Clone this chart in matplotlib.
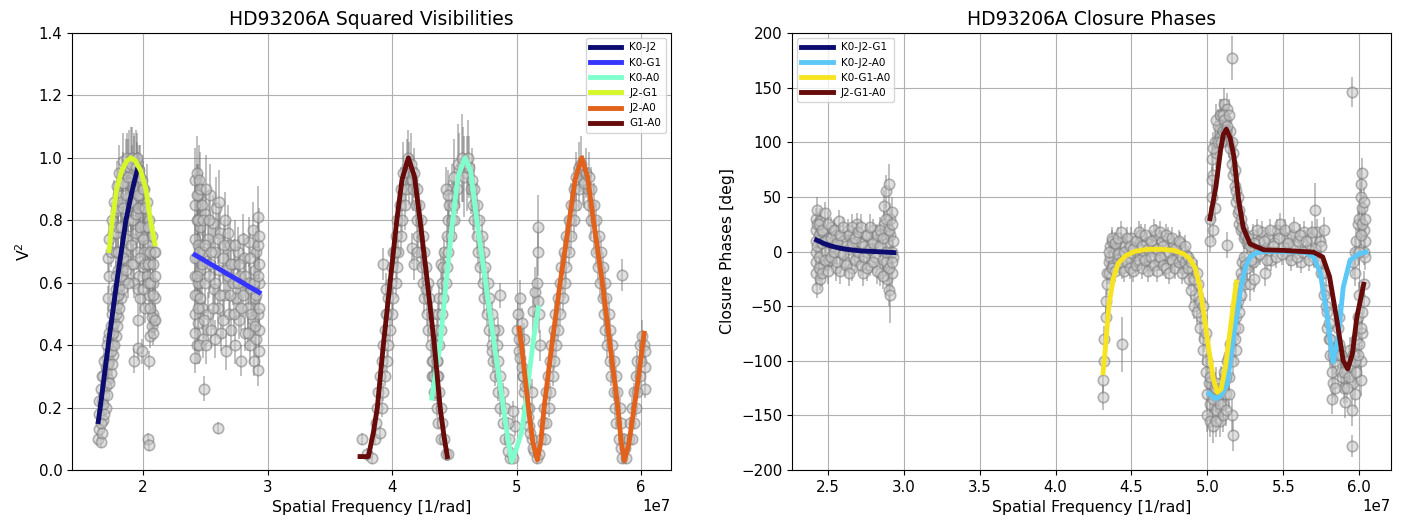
import numpy as np
import matplotlib.pyplot as plt

# observed squared visibilities: (spatial freq [1e7 1/rad], V2, err)
v2_k0j2 = [(1.64,0.10,0.02),(1.65,0.13,0.02),(1.66,0.09,0.02),(1.65,0.18,0.03),(1.67,0.22,0.03),
           (1.66,0.26,0.03),(1.68,0.16,0.02),(1.68,0.30,0.03),(1.69,0.24,0.03),(1.70,0.33,0.03),
           (1.70,0.20,0.03),(1.71,0.36,0.04),(1.72,0.29,0.03),(1.72,0.42,0.04),(1.73,0.35,0.04),
           (1.74,0.46,0.04),(1.74,0.31,0.03),(1.75,0.40,0.04),(1.76,0.52,0.05),(1.76,0.37,0.04),
           (1.77,0.47,0.04),(1.78,0.58,0.05),(1.78,0.43,0.04),(1.79,0.53,0.05),(1.80,0.64,0.05),
           (1.80,0.49,0.05),(1.81,0.59,0.05),(1.82,0.70,0.06),(1.82,0.55,0.05),(1.83,0.64,0.05),
           (1.84,0.76,0.06),(1.85,0.61,0.06),(1.85,0.70,0.06),(1.86,0.82,0.07),(1.87,0.67,0.06),
           (1.88,0.87,0.07),(1.88,0.75,0.06),(1.89,0.92,0.08),(1.90,0.80,0.07),(1.91,0.95,0.09),
           (1.92,0.86,0.08),(1.93,0.98,0.10),(1.94,0.90,0.08),(1.95,0.96,0.09),
           (1.65,0.22,0.03),(1.66,0.15,0.02),(1.67,0.12,0.02),(1.67,0.30,0.03),(1.68,0.21,0.03),
           (1.69,0.35,0.04),(1.69,0.18,0.03),(1.70,0.27,0.03),(1.71,0.24,0.03),(1.71,0.40,0.04),
           (1.72,0.34,0.04),(1.73,0.44,0.04),(1.73,0.28,0.03),(1.74,0.38,0.04),(1.75,0.50,0.05),
           (1.75,0.34,0.04),(1.76,0.44,0.04),(1.77,0.55,0.05),(1.77,0.40,0.04),(1.78,0.50,0.05),
           (1.79,0.46,0.05),(1.80,0.56,0.05),(1.81,0.52,0.05),(1.83,0.58,0.05)]
v2_j2g1 = [(1.72,0.55,0.04),(1.73,0.62,0.05),(1.72,0.68,0.05),(1.73,0.74,0.05),(1.74,0.70,0.05),
           (1.75,0.80,0.06),(1.76,0.76,0.06),(1.77,0.86,0.07),(1.78,0.83,0.07),(1.79,0.91,0.08),
           (1.80,0.88,0.08),(1.81,0.95,0.09),(1.83,0.92,0.08),(1.84,0.99,0.09),(1.86,0.96,0.10),
           (1.87,1.00,0.08),(1.89,0.97,0.12),(1.91,1.00,0.10),(1.93,0.95,0.12),(1.95,1.00,0.08),
           (1.96,0.92,0.10),(1.97,0.96,0.08),(1.98,0.88,0.09),(1.99,0.93,0.08),(2.00,0.84,0.08),
           (2.01,0.90,0.07),(2.02,0.78,0.07),(2.03,0.86,0.12),(2.04,0.72,0.06),(2.05,0.80,0.06),
           (2.06,0.66,0.06),(2.07,0.75,0.06),(2.08,0.60,0.05),(2.09,0.70,0.05),(2.10,0.55,0.05),
           (2.09,0.48,0.05),(2.08,0.50,0.05),(2.07,0.46,0.04),(1.97,0.62,0.05),(1.98,0.55,0.05),
           (1.96,0.48,0.05),(1.93,0.35,0.04),(1.96,0.39,0.04),(2.05,0.35,0.03),(2.04,0.10,0.02),
           (2.05,0.08,0.02),(1.99,0.38,0.04),(2.00,0.65,0.06),(1.95,0.70,0.06),(1.93,0.60,0.05),
           (1.92,0.74,0.06),(1.90,0.66,0.06),(1.99,0.75,0.06),(2.01,0.70,0.06),(2.03,0.62,0.05),
           (2.05,0.56,0.05),(2.07,0.49,0.05),(2.06,0.43,0.04),
           (1.78,0.62,0.05),(1.78,0.70,0.06),(1.78,0.76,0.06),(1.80,0.70,0.06),(1.80,0.78,0.07),
           (1.80,0.84,0.08),(1.82,0.78,0.07),(1.82,0.86,0.08),(1.82,0.62,0.05),(1.84,0.68,0.06),
           (1.84,0.84,0.08),(1.84,0.92,0.10),(1.86,0.74,0.06),(1.86,0.88,0.09),(1.86,0.64,0.05),
           (1.88,0.80,0.07),(1.88,0.94,0.12),(1.88,0.60,0.05),(1.90,0.86,0.09),(1.90,0.98,0.12),
           (1.90,0.72,0.06),(1.92,0.90,0.10),(1.92,0.80,0.07),(1.92,0.66,0.06),(1.94,0.82,0.08),
           (1.94,0.76,0.07),(1.94,0.97,0.12),(1.96,0.84,0.08),(1.96,0.58,0.05),(1.96,0.88,0.10),
           (1.98,0.78,0.07),(1.98,0.68,0.06),(1.98,0.94,0.10),(2.00,0.58,0.05),(2.00,0.74,0.07),
           (2.00,0.90,0.09),(2.02,0.66,0.06),(2.02,0.52,0.05),(2.02,0.84,0.08),(2.04,0.60,0.05),
           (2.04,0.66,0.06),(2.04,0.78,0.07),(2.06,0.52,0.05),(2.06,0.70,0.06),(2.06,0.60,0.05),
           (2.08,0.56,0.05),(2.08,0.66,0.06),(2.08,0.44,0.04),(2.10,0.62,0.06),(2.10,0.48,0.05),
           (2.10,0.70,0.06)]
v2_k0g1 = [(2.42,0.93,0.10),(2.42,0.85,0.09),(2.42,0.74,0.08),(2.42,0.62,0.07),(2.42,0.50,0.06),
           (2.42,0.44,0.06),(2.42,0.36,0.05),(2.43,0.95,0.12),(2.43,0.80,0.09),(2.43,0.68,0.08),
           (2.43,0.56,0.07),(2.43,0.40,0.06),(2.44,0.88,0.10),(2.44,0.72,0.08),(2.44,0.60,0.07),
           (2.44,0.47,0.06),(2.45,0.93,0.11),(2.46,0.78,0.09),(2.46,0.64,0.08),(2.47,0.85,0.10),
           (2.47,0.52,0.07),(2.48,0.70,0.08),(2.48,0.42,0.06),(2.49,0.26,0.04),(2.50,0.82,0.09),
           (2.50,0.60,0.07),(2.52,0.74,0.08),(2.52,0.50,0.07),(2.54,0.88,0.10),(2.54,0.66,0.08),
           (2.55,0.45,0.06),(2.56,0.79,0.09),(2.57,0.58,0.07),(2.58,0.70,0.08),(2.59,0.84,0.10),
           (2.60,0.135,0.02),(2.60,0.52,0.07),(2.61,0.64,0.08),(2.62,0.76,0.09),(2.63,0.44,0.06),
           (2.64,0.68,0.08),(2.65,0.56,0.07),(2.66,0.80,0.09),(2.67,0.38,0.06),(2.68,0.62,0.08),
           (2.69,0.50,0.07),(2.70,0.72,0.08),(2.71,0.45,0.06),(2.72,0.60,0.07),(2.73,0.66,0.08),
           (2.74,0.40,0.06),(2.75,0.55,0.07),(2.76,0.70,0.08),(2.77,0.48,0.06),(2.78,0.62,0.07),
           (2.79,0.35,0.05),(2.80,0.56,0.07),(2.81,0.68,0.08),(2.82,0.44,0.06),(2.83,0.60,0.07),
           (2.84,0.52,0.07),(2.85,0.73,0.08),(2.86,0.40,0.06),(2.87,0.58,0.07),(2.88,0.77,0.09),
           (2.88,0.48,0.06),(2.89,0.35,0.05),(2.90,0.64,0.08),(2.90,0.55,0.07),(2.91,0.42,0.06),
           (2.91,0.70,0.08),(2.92,0.81,0.10),(2.92,0.50,0.07),(2.93,0.60,0.07),(2.93,0.38,0.05),
           (2.92,0.32,0.05),(2.93,0.66,0.08),(2.93,0.45,0.06),
           (2.42,0.68,0.08),(2.42,0.56,0.07),(2.43,0.88,0.10),(2.43,0.62,0.07),(2.44,0.52,0.07),
           (2.44,0.80,0.09),(2.45,0.40,0.06),(2.45,0.70,0.08),(2.46,0.55,0.07),(2.46,0.90,0.12),
           (2.47,0.66,0.08),(2.48,0.80,0.09),(2.49,0.48,0.06),(2.50,0.72,0.08),(2.51,0.40,0.06),
           (2.51,0.90,0.11),(2.53,0.62,0.07),(2.53,0.80,0.09),(2.55,0.70,0.08),(2.56,0.52,0.07),
           (2.58,0.60,0.07),(2.58,0.42,0.06),(2.60,0.74,0.08),(2.61,0.86,0.10),(2.62,0.56,0.07),
           (2.64,0.48,0.06),(2.65,0.72,0.08),(2.67,0.64,0.08),(2.68,0.76,0.09),(2.70,0.56,0.07),
           (2.71,0.66,0.08),(2.73,0.50,0.07),(2.74,0.72,0.08),(2.76,0.60,0.07),(2.77,0.66,0.08),
           (2.79,0.52,0.07),(2.80,0.74,0.08),(2.82,0.62,0.07),(2.84,0.44,0.06),(2.85,0.60,0.07),
           (2.86,0.68,0.08),(2.87,0.50,0.07),(2.89,0.60,0.07),(2.90,0.46,0.06),(2.91,0.56,0.07),
           (2.92,0.62,0.08),(2.92,0.72,0.09),(2.93,0.52,0.07),(2.93,0.75,0.09)]
v2_g1a0 = [(3.76,0.10,0.02),(3.80,0.05,0.02),(3.84,0.04,0.02),(3.86,0.10,0.02),(3.88,0.20,0.03),
           (3.92,0.20,0.03),(3.90,0.30,0.03),(3.94,0.30,0.03),(3.93,0.40,0.04),(3.97,0.40,0.04),
           (3.96,0.50,0.04),(4.00,0.50,0.04),(3.99,0.60,0.05),(4.03,0.60,0.05),(4.01,0.70,0.05),
           (4.05,0.70,0.05),(4.04,0.80,0.06),(4.08,0.80,0.06),(4.07,0.90,0.07),(4.11,0.90,0.07),
           (4.12,0.97,0.09),(4.14,0.95,0.10),(4.16,0.93,0.08),(4.17,0.90,0.07),(4.20,0.90,0.07),
           (4.20,0.80,0.06),(4.23,0.80,0.06),(4.23,0.70,0.05),(4.26,0.70,0.05),(4.25,0.60,0.05),
           (4.29,0.60,0.05),(4.28,0.50,0.04),(4.32,0.50,0.04),(4.31,0.40,0.04),(4.35,0.40,0.04),
           (4.33,0.30,0.03),(4.37,0.30,0.03),(4.36,0.20,0.03),(4.39,0.20,0.03),(4.39,0.10,0.02),
           (4.42,0.10,0.02),(4.43,0.05,0.02),(4.45,0.05,0.02),(4.16,0.71,0.05),(4.18,0.66,0.05),
           (3.93,0.66,0.05),(3.95,0.58,0.05),
           (3.89,0.25,0.03),(3.93,0.25,0.03),(3.92,0.35,0.04),(3.96,0.35,0.04),(3.94,0.45,0.04),
           (3.98,0.45,0.04),(3.97,0.55,0.05),(4.01,0.55,0.05),(4.00,0.65,0.05),(4.04,0.65,0.05),
           (4.03,0.75,0.06),(4.07,0.75,0.06),(4.06,0.85,0.07),(4.10,0.85,0.08),(4.09,0.95,0.10),
           (4.13,1.00,0.09),(4.15,0.98,0.10),(4.18,0.95,0.08),(4.19,0.85,0.07),(4.22,0.85,0.07),
           (4.21,0.75,0.06),(4.25,0.75,0.06),(4.24,0.65,0.05),(4.27,0.65,0.05),(4.26,0.55,0.05),
           (4.30,0.55,0.05),(4.29,0.45,0.04),(4.33,0.45,0.04),(4.32,0.35,0.04),(4.36,0.35,0.04),
           (4.35,0.25,0.03),(4.38,0.25,0.03),(4.37,0.15,0.02),(4.40,0.15,0.02),(3.87,0.15,0.02),
           (3.90,0.12,0.02),(3.95,0.50,0.04),(4.02,0.70,0.05),(4.27,0.58,0.05),(4.20,0.70,0.05)]
v2_k0a0 = [(4.32,0.30,0.03),(4.34,0.30,0.03),(4.35,0.40,0.04),(4.38,0.40,0.04),(4.37,0.50,0.04),
           (4.40,0.50,0.04),(4.40,0.60,0.05),(4.43,0.60,0.05),(4.42,0.70,0.05),(4.45,0.70,0.05),
           (4.45,0.80,0.06),(4.48,0.80,0.06),(4.48,0.90,0.08),(4.52,0.90,0.08),(4.54,0.96,0.12),
           (4.57,0.98,0.12),(4.60,0.95,0.12),(4.62,0.97,0.10),(4.63,0.90,0.08),(4.66,0.90,0.08),
           (4.66,0.80,0.06),(4.70,0.80,0.06),(4.69,0.70,0.05),(4.74,0.70,0.05),(4.73,0.60,0.05),
           (4.77,0.60,0.05),(4.76,0.50,0.04),(4.80,0.50,0.04),(4.80,0.40,0.04),(4.84,0.40,0.04),
           (4.83,0.30,0.03),(4.87,0.30,0.03),(4.87,0.20,0.03),(4.91,0.20,0.03),(4.91,0.10,0.02),
           (4.94,0.10,0.02),(4.95,0.04,0.02),(4.97,0.04,0.02),(4.34,0.25,0.03),(4.36,0.30,0.03),
           (4.39,0.66,0.05),(4.43,0.90,0.07),(4.87,0.56,0.04),(4.85,0.45,0.04),(4.97,0.19,0.03),
           (4.99,0.14,0.03),(5.00,0.45,0.05),(5.01,0.50,0.06),(5.02,0.38,0.04),(5.03,0.55,0.06),
           (5.04,0.47,0.05),(5.05,0.30,0.04),(5.06,0.42,0.05),(5.13,0.51,0.07),(5.15,0.57,0.08),
           (5.17,0.78,0.10),(5.17,0.70,0.08),(5.16,0.60,0.08),(5.17,0.54,0.07),(5.18,0.50,0.06),
           (5.19,0.40,0.05),(5.12,0.25,0.04),(5.10,0.20,0.03),
           (4.33,0.35,0.04),(4.36,0.35,0.04),(4.36,0.45,0.04),(4.39,0.45,0.04),(4.38,0.55,0.05),
           (4.41,0.55,0.05),(4.41,0.65,0.05),(4.44,0.65,0.05),(4.44,0.75,0.06),(4.47,0.75,0.06),
           (4.46,0.85,0.08),(4.50,0.85,0.08),(4.50,0.94,0.12),(4.53,0.98,0.13),(4.56,1.00,0.14),
           (4.58,0.94,0.13),(4.61,1.00,0.12),(4.64,0.93,0.10),(4.65,0.85,0.08),(4.68,0.85,0.07),
           (4.68,0.75,0.06),(4.72,0.75,0.06),(4.71,0.65,0.05),(4.75,0.65,0.05),(4.74,0.55,0.05),
           (4.78,0.55,0.05),(4.78,0.45,0.04),(4.82,0.45,0.04),(4.81,0.35,0.04),(4.85,0.35,0.04),
           (4.85,0.25,0.03),(4.89,0.25,0.03),(4.89,0.15,0.02),(4.93,0.15,0.02),(4.93,0.06,0.02),
           (4.50,0.80,0.07),(4.45,0.88,0.08),(4.80,0.38,0.04)]
v2_j2a0 = [(5.02,0.42,0.04),(5.03,0.36,0.04),(5.05,0.30,0.03),(5.06,0.25,0.03),(5.08,0.20,0.03),
           (5.10,0.14,0.02),(5.12,0.10,0.02),(5.14,0.06,0.02),(5.16,0.04,0.02),(5.18,0.05,0.02),
           (5.20,0.10,0.02),(5.23,0.10,0.02),(5.22,0.20,0.03),(5.26,0.20,0.03),(5.25,0.30,0.03),
           (5.29,0.30,0.03),(5.28,0.40,0.04),(5.32,0.40,0.04),(5.31,0.50,0.04),(5.35,0.50,0.04),
           (5.35,0.60,0.05),(5.39,0.60,0.05),(5.38,0.70,0.05),(5.42,0.70,0.05),(5.42,0.80,0.06),
           (5.46,0.80,0.06),(5.46,0.90,0.07),(5.50,0.90,0.07),(5.50,0.97,0.08),(5.53,0.93,0.08),
           (5.56,0.95,0.08),(5.57,0.90,0.07),(5.60,0.90,0.07),(5.60,0.80,0.06),(5.64,0.80,0.06),
           (5.64,0.70,0.05),(5.68,0.70,0.05),(5.67,0.60,0.05),(5.71,0.60,0.05),(5.70,0.50,0.04),
           (5.74,0.50,0.04),(5.73,0.40,0.04),(5.77,0.40,0.04),(5.76,0.30,0.03),(5.80,0.30,0.03),
           (5.79,0.20,0.03),(5.83,0.20,0.03),(5.82,0.10,0.02),(5.86,0.10,0.02),(5.85,0.04,0.02),
           (5.88,0.04,0.02),(5.90,0.10,0.02),(5.93,0.10,0.02),(5.93,0.20,0.03),(5.96,0.20,0.03),
           (5.96,0.30,0.03),(5.99,0.30,0.03),(5.99,0.40,0.04),(6.02,0.40,0.04),(6.03,0.33,0.04),
           (6.03,0.26,0.03),(5.85,0.625,0.05),
           (5.04,0.33,0.03),(5.07,0.27,0.03),(5.09,0.17,0.02),(5.11,0.12,0.02),(5.13,0.07,0.02),
           (5.21,0.15,0.02),(5.24,0.15,0.02),(5.24,0.25,0.03),(5.27,0.25,0.03),(5.27,0.35,0.03),
           (5.30,0.35,0.03),(5.30,0.45,0.04),(5.33,0.45,0.04),(5.33,0.55,0.05),(5.37,0.55,0.05),
           (5.36,0.65,0.05),(5.40,0.65,0.05),(5.40,0.75,0.06),(5.44,0.75,0.06),(5.44,0.85,0.07),
           (5.48,0.85,0.07),(5.48,0.94,0.08),(5.52,0.98,0.09),(5.54,0.92,0.08),(5.58,0.94,0.08),
           (5.58,0.85,0.07),(5.62,0.85,0.07),(5.62,0.75,0.06),(5.66,0.75,0.06),(5.65,0.65,0.05),
           (5.69,0.65,0.05),(5.69,0.55,0.05),(5.72,0.55,0.05),(5.71,0.45,0.04),(5.75,0.45,0.04),
           (5.75,0.35,0.03),(5.78,0.35,0.03),(5.78,0.25,0.03),(5.81,0.25,0.03),(5.80,0.15,0.02),
           (5.84,0.15,0.02),(5.84,0.07,0.02),(5.87,0.07,0.02),(5.91,0.15,0.02),(5.94,0.15,0.02),
           (5.94,0.25,0.03),(5.97,0.25,0.03),(5.97,0.35,0.03),(6.00,0.35,0.04),(6.01,0.43,0.05),
           (6.03,0.38,0.04)]

# model V2 curves: spatial freq [1e7 1/rad], V2
m_k0j2_x = [1.641, 1.66, 1.721, 1.789, 1.863, 1.91, 1.954]
m_k0j2_y = [0.155, 0.21, 0.40, 0.60, 0.80, 0.89, 0.961]
m_k0g1_x = [2.418, 2.932]
m_k0g1_y = [0.689, 0.569]
m_k0a0_x = [4.319, 4.35, 4.386, 4.434, 4.487, 4.53, 4.586, 4.63, 4.68, 4.752, 4.822, 4.894,
            4.93, 4.961, 5.0, 5.04, 5.075, 5.108, 5.14, 5.175]
m_k0a0_y = [0.23, 0.31, 0.40, 0.60, 0.80, 0.94, 1.0, 0.96, 0.80, 0.60, 0.40, 0.20,
            0.10, 0.027, 0.07, 0.12, 0.22, 0.33, 0.43, 0.52]
m_j2g1_x = [1.727, 1.753, 1.789, 1.83, 1.87, 1.904, 1.94, 1.98, 2.024, 2.06, 2.096]
m_j2g1_y = [0.703, 0.80, 0.90, 0.96, 0.99, 1.0, 0.99, 0.96, 0.90, 0.80, 0.724]
m_j2a0_x = [5.02, 5.04, 5.095, 5.13, 5.167, 5.195, 5.221, 5.283, 5.35, 5.424, 5.47, 5.523,
            5.57, 5.617, 5.689, 5.751, 5.813, 5.84, 5.866, 5.90, 5.944, 5.98, 6.024]
m_j2a0_y = [0.454, 0.40, 0.20, 0.09, 0.032, 0.09, 0.20, 0.40, 0.60, 0.80, 0.93, 1.0,
            0.94, 0.80, 0.60, 0.40, 0.20, 0.09, 0.03, 0.08, 0.20, 0.30, 0.438]
m_g1a0_x = [3.743, 3.81, 3.85, 3.882, 3.93, 3.984, 4.038, 4.08, 4.131, 4.18, 4.225, 4.284,
            4.34, 4.386, 4.42, 4.444]
m_g1a0_y = [0.043, 0.043, 0.12, 0.20, 0.40, 0.60, 0.80, 0.93, 1.0, 0.94, 0.80, 0.60,
            0.40, 0.20, 0.10, 0.043]

# observed closure phases: (spatial freq [1e7 1/rad], CP [deg], err)
cp_k0j2g1 = [(2.42,30,10),(2.42,20,12),(2.42,10,10),(2.42,0,12),(2.42,-10,10),(2.42,-20,12),
             (2.43,-33,10),(2.43,38,12),(2.43,25,10),(2.43,5,12),(2.44,15,10),(2.44,-5,12),
             (2.45,-25,10),(2.45,28,12),(2.46,8,10),(2.47,18,10),(2.47,-12,10),(2.48,35,10),
             (2.49,0,10),(2.50,12,10),(2.51,-8,10),(2.52,22,10),(2.53,5,10),(2.55,-15,12),
             (2.55,15,10),(2.57,28,10),(2.58,0,10),(2.60,10,10),(2.61,-10,10),(2.63,20,10),
             (2.64,2,10),(2.66,-15,12),(2.67,12,10),(2.69,25,10),(2.70,-5,10),(2.72,8,10),
             (2.73,-20,12),(2.75,15,10),(2.76,0,10),(2.78,-12,10),(2.79,10,10),(2.80,20,10),
             (2.81,-5,10),(2.83,5,10),(2.84,-20,12),(2.85,15,10),(2.86,-8,10),(2.87,25,12),
             (2.87,42,14),(2.88,55,15),(2.88,-10,12),(2.89,8,12),(2.89,-25,15),(2.90,62,18),
             (2.90,-35,15),(2.91,30,14),(2.91,15,12),(2.91,-40,25),(2.92,0,12),(2.92,-20,14),
             (2.92,36,14),(2.93,10,12),(2.93,-5,12),
             (2.44,25,12),(2.44,-15,12),(2.46,-20,12),(2.46,20,12),(2.48,10,10),(2.48,-8,10),
             (2.50,25,12),(2.50,-18,12),(2.52,-5,10),(2.52,12,10),(2.54,20,10),(2.54,0,10),
             (2.56,-10,10),(2.56,8,10),(2.58,15,10),(2.58,-18,12),(2.60,22,10),(2.60,-2,10),
             (2.62,5,10),(2.62,-12,10),(2.64,15,10),(2.64,-20,12),(2.66,8,10),(2.66,22,12),
             (2.68,-8,10),(2.68,12,10),(2.70,18,10),(2.70,0,10),(2.72,-12,10),(2.72,22,12),
             (2.74,5,10),(2.74,-5,10),(2.76,15,10),(2.76,-15,12),(2.78,2,10),(2.78,22,12),
             (2.80,-10,10),(2.80,8,10),(2.82,15,10),(2.82,-18,12),(2.84,5,10),(2.84,20,12),
             (2.86,12,10),(2.86,-22,12),(2.88,0,12),(2.88,30,14),(2.90,20,12),(2.90,-15,12),
             (2.92,-10,12),(2.92,25,14)]
cp_k0g1a0 = [(4.31,-133,12),(4.31,-118,12),(4.32,-100,12),(4.32,-80,12),(4.33,-60,10),(4.33,-45,10),
             (4.34,-30,10),(4.34,-20,10),(4.35,-10,10),(4.36,5,10),(4.36,-5,10),(4.37,10,10),
             (4.38,-12,10),(4.40,2,10),(4.41,-8,10),(4.43,8,10),(4.44,-85,25),(4.44,-15,10),
             (4.46,5,10),(4.48,-5,10),(4.50,12,10),(4.52,-10,10),(4.54,3,10),(4.56,15,10),
             (4.58,-5,10),(4.60,8,10),(4.62,-12,10),(4.64,5,10),(4.66,15,10),(4.68,-8,10),
             (4.70,10,10),(4.72,-3,10),(4.74,12,10),(4.76,-10,10),(4.78,5,10),(4.80,-5,10),
             (4.82,8,10),(4.84,-15,10),(4.86,-3,10),(4.88,-25,10),(4.90,-15,10),(4.92,-40,12),
             (4.94,-30,12),(4.96,-60,12),(4.98,-80,12),(5.00,-100,14),(5.01,-120,14),(5.02,-140,15),
             (5.03,-130,15),(5.04,-150,15),(5.05,-125,15),(5.06,-145,15),(5.07,-135,15),(5.08,-155,15),
             (5.09,-120,15),(5.10,-140,15),(5.11,-110,14),(5.12,-130,14),(5.13,-100,14),(5.14,-115,14),
             (5.15,-85,12),(5.16,-150,15),(5.17,-168,15),(5.18,-70,12),(5.19,-50,12),
             (4.35,0,10),(4.35,-20,10),(4.37,-15,10),(4.37,12,10),(4.39,8,10),(4.39,-18,10),
             (4.41,12,10),(4.41,-2,10),(4.43,-10,10),(4.43,18,10),(4.45,0,10),(4.45,-18,10),
             (4.47,12,10),(4.47,-10,10),(4.49,-15,10),(4.49,5,10),(4.51,2,10),(4.51,-18,10),
             (4.53,10,10),(4.53,-12,10),(4.55,-8,10),(4.55,18,10),(4.57,5,10),(4.57,-15,10),
             (4.59,15,10),(4.59,-8,10),(4.61,-18,10),(4.61,2,10),(4.63,10,10),(4.63,-5,10),
             (4.65,-12,10),(4.65,20,10),(4.67,2,10),(4.67,-18,10),(4.69,18,10),(4.69,-5,10),
             (4.71,-12,10),(4.71,5,10),(4.73,15,10),(4.73,-15,10),(4.75,0,10),(4.75,-20,10),
             (4.77,12,10),(4.77,-8,10),(4.79,-15,10),(4.79,2,10),(4.81,10,10),(4.81,-10,10),
             (4.83,-5,10),(4.83,-20,10),(4.85,5,10),(4.85,-10,10),(4.87,-15,10),(4.87,-5,10),
             (4.89,-10,10),(4.89,-35,12),(4.91,-25,12),(4.91,-50,12),(4.93,-20,12),(4.93,-55,12),
             (4.95,-45,12),(4.95,-70,12),(4.97,-50,12),(4.97,-90,14),(4.99,-75,14),(4.99,-110,14),
             (5.00,-130,14),(5.00,-150,15),(5.02,-115,14),(5.02,-155,15),(5.04,-135,15),(5.04,-160,15),
             (5.06,-120,14),(5.06,-155,15),(5.08,-140,15),(5.08,-125,14),(5.10,-125,14),(5.10,-150,15),
             (5.12,-145,15),(5.12,-115,14),(5.14,-130,14),(5.14,-95,12)]
cp_j2g1a0 = [(5.02,10,10),(5.02,30,12),(5.03,50,12),(5.03,85,14),(5.04,70,12),(5.05,100,14),
             (5.06,90,14),(5.07,115,15),(5.08,105,15),(5.09,125,15),(5.10,110,15),(5.11,135,15),
             (5.12,120,15),(5.13,130,15),(5.14,100,14),(5.15,110,14),(5.16,80,12),(5.17,90,12),
             (5.18,60,12),(5.19,45,12),(5.20,35,10),(5.21,25,10),(5.22,20,10),(5.24,12,10),
             (5.26,8,10),(5.13,6,12),(5.16,177,20),(5.05,40,12),(5.04,20,12),
             (5.17,-100,14),(5.18,-80,12),(5.19,-60,12),(5.20,-45,12),(5.21,-30,10),(5.22,-20,10),
             (5.23,-10,10),(5.24,-5,10),
             (5.03,65,12),(5.04,95,14),(5.06,120,15),(5.07,100,14),(5.08,125,15),(5.09,100,14),
             (5.10,125,15),(5.11,120,15),(5.12,110,14),(5.13,115,15),(5.14,125,15),(5.15,95,14),
             (5.16,100,14),(5.17,70,12),(5.18,75,12),(5.19,55,12),(5.20,50,12),(5.21,38,10),
             (5.22,30,10),(5.23,22,10),(5.25,15,10),(5.27,10,10),
             (5.19,-90,14),(5.20,-70,12),(5.21,-55,12),(5.22,-40,12),(5.23,-25,10),(5.25,-12,10)]
cp_k0j2a0 = [(5.25,-30,15),(5.26,-15,10),(5.28,5,10),(5.30,15,10),(5.32,-5,10),(5.34,10,10),
             (5.36,18,10),(5.38,2,10),(5.40,12,10),(5.42,-8,10),(5.44,8,10),(5.46,20,10),
             (5.48,25,10),(5.50,5,10),(5.52,12,10),(5.54,-3,10),(5.56,15,10),(5.58,5,10),
             (5.60,10,10),(5.62,-10,10),(5.64,18,10),(5.66,2,10),(5.68,12,10),(5.70,-5,10),
             (5.71,38,25),(5.72,18,12),(5.74,10,10),(5.75,-20,12),(5.77,20,12),(5.78,-35,14),
             (5.38,-20,12),(5.30,-10,10),(5.28,-30,15),(5.31,-25,12),
             (5.76,-20,12),(5.78,-50,12),(5.79,-70,12),(5.80,-80,12),(5.81,-95,12),(5.82,-110,14),
             (5.82,-135,14),(5.83,-120,14),(5.84,-100,12),(5.85,-90,12),(5.86,-70,12),(5.87,-60,12),
             (5.88,-110,14),(5.89,-115,14),(5.90,-125,14),(5.91,-138,14),(5.92,-110,14),(5.93,-100,14),
             (5.94,-90,12),(5.95,-145,15),(5.95,-178,10),(5.96,-120,14),(5.97,-130,14),(5.98,-80,12),
             (5.99,-60,12),(6.00,-40,12),(6.01,-100,14),(6.01,-118,14),(6.02,-75,12),
             (5.97,-20,12),(5.98,10,12),(5.99,25,12),(6.00,30,12),(6.01,50,14),(6.01,62,14),
             (6.02,72,14),(6.02,40,12),(6.03,20,12),(6.03,0,12),(6.04,10,12),(6.04,-5,12),
             (6.03,-30,12),(5.95,146,14),(5.97,0,12),(5.96,-10,12),
             (5.27,12,10),(5.29,-8,10),(5.31,8,10),(5.33,20,10),(5.35,-2,10),(5.37,10,10),
             (5.39,-8,10),(5.41,20,10),(5.43,5,10),(5.45,-5,10),(5.47,12,10),(5.49,-2,10),
             (5.51,20,10),(5.53,8,10),(5.55,-8,10),(5.57,22,10),(5.59,-5,10),(5.61,15,10),
             (5.63,0,10),(5.65,10,10),(5.67,-8,10),(5.69,18,10),(5.71,2,10),(5.73,-10,10),
             (5.75,5,10),
             (5.77,-40,12),(5.79,-55,12),(5.80,-65,12),(5.81,-80,12),(5.83,-95,12),(5.84,-125,14),
             (5.86,-95,12),(5.87,-85,12),(5.88,-95,12),(5.90,-110,14),(5.91,-100,14),(5.92,-125,14),
             (5.93,-115,14),(5.94,-105,14),(5.96,-95,12),(5.97,-100,14),(5.98,-110,14),(5.99,-95,12),
             (6.00,-85,12),(6.01,-70,12),(6.02,-55,12),(6.03,-45,12),(6.00,0,12),(6.01,15,12),
             (6.02,25,12),(6.03,45,14),(6.04,30,12)]

# model closure phase curves: spatial freq [1e7 1/rad], CP [deg]
m_cp1_x = [2.425, 2.47, 2.52, 2.58, 2.65, 2.72, 2.80, 2.87, 2.935]
m_cp1_y = [10.5, 7.5, 5.0, 3.0, 1.5, 0.5, 0.0, -0.5, -1.0]
m_cp2_x = [5.011, 5.056, 5.09, 5.131, 5.176, 5.221, 5.25, 5.281, 5.32, 5.371, 5.50, 5.64, 5.70,
           5.745, 5.79, 5.826, 5.83, 5.865, 5.895, 5.94, 6.0, 6.045]
m_cp2_y = [-130, -135, -132, -121, -75, -33, -15, -5, -1.5, 0, 0, -0.6, -5,
           -20, -60, -100, -101, -75, -33, -8, -2, -0.6]
m_cp3_x = [4.313, 4.33, 4.352, 4.38, 4.412, 4.46, 4.52, 4.60, 4.70, 4.78, 4.84, 4.88, 4.92,
           4.95, 4.98, 5.01, 5.04, 5.065, 5.09, 5.12, 5.15, 5.17, 5.191]
m_cp3_y = [-111, -85, -48, -25, -11, -4, 0, 2, 2, 1, -2, -6, -15,
           -32, -60, -90, -117, -129, -126, -105, -72, -50, -28]
m_cp4_x = [5.017, 5.056, 5.086, 5.105, 5.125, 5.15, 5.176, 5.206, 5.236, 5.281, 5.371, 5.50,
           5.70, 5.76, 5.805, 5.85, 5.895, 5.925, 5.955, 5.985, 6.03]
m_cp4_y = [30, 59, 92, 107, 112, 104, 86, 47, 22, 7, 1.5, 1,
           -0.6, -5, -23, -60, -100, -107.5, -94, -60, -30]

v2_models = [("K0-J2", m_k0j2_x, m_k0j2_y, "#0b0b70"),
             ("K0-G1", m_k0g1_x, m_k0g1_y, "#3535ff"),
             ("K0-A0", m_k0a0_x, m_k0a0_y, "#80ffcc"),
             ("J2-G1", m_j2g1_x, m_j2g1_y, "#d6f72a"),
             ("J2-A0", m_j2a0_x, m_j2a0_y, "#e2621c"),
             ("G1-A0", m_g1a0_x, m_g1a0_y, "#660a0a")]
cp_models = [("K0-J2-G1", m_cp1_x, m_cp1_y, "#0b0b70"),
             ("K0-J2-A0", m_cp2_x, m_cp2_y, "#5cc8f7"),
             ("K0-G1-A0", m_cp3_x, m_cp3_y, "#f7e421"),
             ("J2-G1-A0", m_cp4_x, m_cp4_y, "#660a0a")]


def plot_obs(ax, pts):
    a = np.array(pts, dtype=float)
    ax.errorbar(a[:, 0] * 1e7, a[:, 1], yerr=a[:, 2], fmt="o", ms=7.5, mew=1.2,
                mfc="#c8c8c8", mec="#7a7a7a", ecolor="#6e6e6e", elinewidth=1.1,
                alpha=0.55, zorder=2)


fig = plt.figure(figsize=(14.13, 5.23), dpi=100)
W, H = 1413, 523
ax1 = fig.add_axes([72 / W, 1 - 470 / H, (671 - 72) / W, 437 / H])
ax2 = fig.add_axes([792 / W, 1 - 470 / H, (1391 - 792) / W, 437 / H])

for pts in [v2_k0j2, v2_j2g1, v2_k0g1, v2_g1a0, v2_k0a0, v2_j2a0]:
    plot_obs(ax1, pts)
for name, x, y, c in v2_models:
    ax1.plot(np.array(x) * 1e7, y, color=c, lw=3.5, label=name, zorder=3)

ax1.set_xlim(1.43e7, 6.24e7)
ax1.set_ylim(0, 1.4)
ax1.set_yticks(np.arange(0, 1.41, 0.2))
ax1.set_title("HD93206A Squared Visibilities", fontsize=13.5)
ax1.set_xlabel("Spatial Frequency [1/rad]", fontsize=11.3)
ax1.set_ylabel("V$^2$", fontsize=11.3)
ax1.grid(True)
ax1.legend(loc="upper right", fontsize=7.5, handlelength=3)

for pts in [cp_k0j2g1, cp_k0g1a0, cp_j2g1a0, cp_k0j2a0]:
    plot_obs(ax2, pts)
for name, x, y, c in cp_models:
    ax2.plot(np.array(x) * 1e7, y, color=c, lw=3.5, label=name, zorder=3)

ax2.set_xlim(2.263e7, 6.21e7)
ax2.set_ylim(-200, 200)
ax2.set_xticks(np.arange(2.5e7, 6.01e7, 0.5e7))
ax2.set_yticks(np.arange(-200, 201, 50))
ax2.set_title("HD93206A Closure Phases", fontsize=13.5)
ax2.set_xlabel("Spatial Frequency [1/rad]", fontsize=11.3)
ax2.set_ylabel("Closure Phases [deg]", fontsize=11.3)
ax2.grid(True)
ax2.legend(loc="upper left", fontsize=7.5, handlelength=3)

for ax in (ax1, ax2):
    ax.tick_params(labelsize=10.8)
    ax.xaxis.get_offset_text().set_fontsize(10.8)

fig.savefig("out.png", dpi=100)
